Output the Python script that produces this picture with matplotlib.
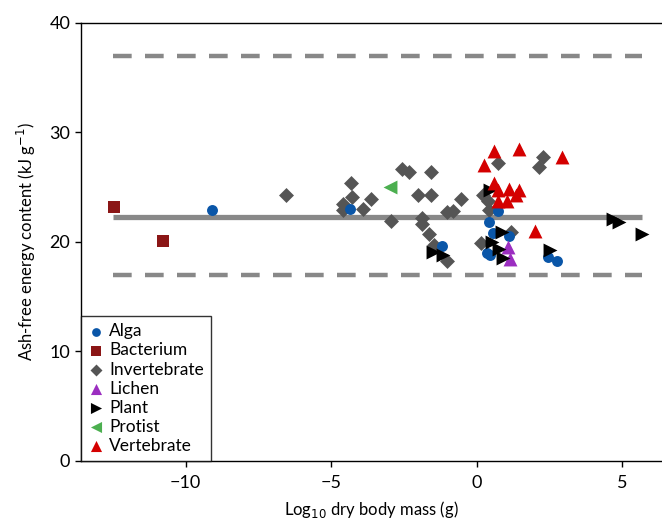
import matplotlib
matplotlib.use("Agg")
import matplotlib.pyplot as plt

plt.rcParams['font.family'] = ['Lato', 'DejaVu Sans']

# log10 dry body mass (g), ash-free energy content (kJ/g)
alga_x = [-9.1, -4.35, -1.2, 0.35, 0.45, 0.43, 0.56, 0.75, 1.12, 2.45, 2.75]
alga_y = [22.9, 23.0, 19.6, 19.0, 18.8, 21.8, 20.8, 22.8, 20.5, 18.6, 18.3]

bact_x = [-12.46, -10.77]
bact_y = [23.2, 20.1]

inv_x = [-6.56, -4.3, -4.27, -4.58, -4.6, -3.9, -3.62, -2.58, -2.33, -1.55,
         -2.03, -1.55, -0.55, -1.03, -0.8, -2.95, -1.89, -1.89, -1.63, -1.46,
         -1.03, 0.23, 0.4, 0.43, 0.74, 2.29, 2.15, 1.17, 0.15]
inv_y = [24.3, 25.4, 24.1, 23.5, 22.9, 23.0, 23.9, 26.7, 26.4, 26.4,
         24.3, 24.3, 23.9, 22.7, 22.8, 21.9, 22.2, 21.6, 20.7, 19.7,
         18.3, 24.3, 23.7, 22.9, 27.2, 27.8, 26.8, 20.9, 19.9]

lichen_x = [1.09, 1.14]
lichen_y = [19.5, 18.4]

plant_x = [-1.49, -1.15, 0.46, 0.86, 0.52, 0.78, 0.91, 2.52, 4.7, 4.9, 5.67]
plant_y = [19.1, 18.8, 24.7, 20.9, 20.0, 19.4, 18.5, 19.3, 22.1, 21.8, 20.7]

protist_x = [-2.96]
protist_y = [25.0]

vert_x = [0.6, 1.45, 2.92, 0.25, 0.6, 0.74, 1.11, 1.46, 1.35, 0.72, 1.06, 2.0]
vert_y = [28.3, 28.5, 27.8, 27.0, 25.4, 24.7, 24.8, 24.7, 24.3, 23.7, 23.7, 21.0]

mean_energy = 22.3
upper_band = 37.0
lower_band = 17.0
line_x = [-12.5, 5.7]

fig = plt.figure(figsize=(6.62, 5.2), dpi=100)
ax = fig.add_axes([0.122, 0.1135, 0.878, 0.8425])

gray = '#888888'
ax.plot(line_x, [mean_energy, mean_energy], color=gray, lw=3.8, solid_capstyle='butt', zorder=1)
for yv in (upper_band, lower_band):
    ax.plot(line_x, [yv, yv], color=gray, lw=3.2, dashes=(4.2, 3.0), zorder=1)

ax.scatter(alga_x, alga_y, marker='o', s=62, color='#0a56a8', label='Alga', zorder=3, linewidths=0)
ax.scatter(bact_x, bact_y, marker='s', s=70, color='#8b1616', label='Bacterium', zorder=3, linewidths=0)
ax.scatter(inv_x, inv_y, marker='D', s=58, color='#555555', label='Invertebrate', zorder=2, linewidths=0)
ax.scatter(lichen_x, lichen_y, marker='^', s=100, color='#9b2ec0', label='Lichen', zorder=3, linewidths=0)
ax.scatter(plant_x, plant_y, marker='>', s=100, color='black', label='Plant', zorder=3, linewidths=0)
ax.scatter(protist_x, protist_y, marker='<', s=100, color='#4caf50', label='Protist', zorder=3, linewidths=0)
ax.scatter(vert_x, vert_y, marker='^', s=100, color='#d40000', label='Vertebrate', zorder=3, linewidths=0)

ax.set_xlim(-13.6, 6.37)
ax.set_ylim(0, 40)
ax.set_xticks([-10, -5, 0, 5])
ax.set_xticklabels(['\u221210', '\u22125', '0', '5'])
ax.set_yticks([0, 10, 20, 30, 40])
ax.spines['right'].set_visible(False)
for s in ('left', 'bottom', 'top'):
    ax.spines[s].set_linewidth(1.0)
ax.tick_params(direction='out', length=4, width=1, labelsize=13, colors='black')
ax.tick_params(axis='x', pad=6)

ax.set_xlabel('Log$_{10}$ dry body mass (g)', fontsize=12, labelpad=6)
ax.set_ylabel('Ash-free energy content (kJ g$^{-1}$)', fontsize=12, labelpad=8)

leg = ax.legend(loc='lower left', bbox_to_anchor=(0, 0), borderaxespad=0,
                fontsize=12.5, frameon=True, fancybox=False, edgecolor='black',
                handletextpad=0.25, handlelength=1.0, labelspacing=0.18,
                markerscale=0.8, borderpad=0.4)
leg.get_frame().set_linewidth(1.0)

fig.savefig('out.png', dpi=100)
